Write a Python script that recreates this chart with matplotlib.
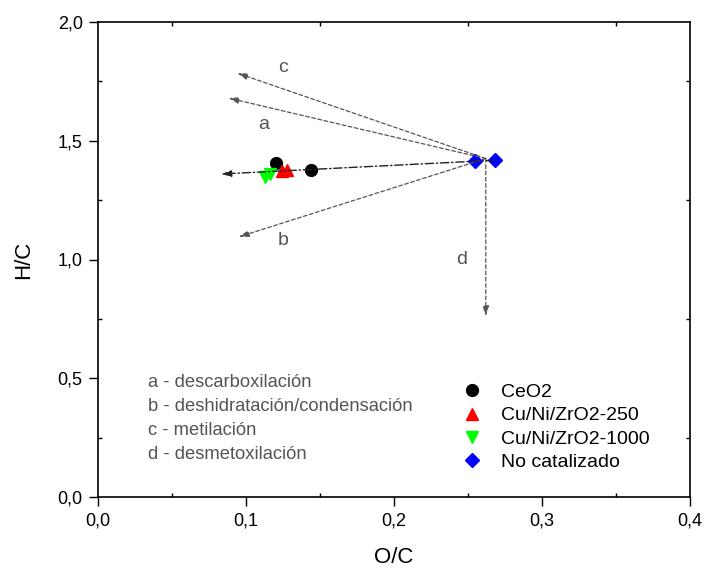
import numpy as np
import matplotlib.pyplot as plt
from matplotlib.ticker import MultipleLocator, FuncFormatter

plt.rcParams['font.family'] = ['Liberation Sans', 'DejaVu Sans']

# data
ceo2_x = [0.120, 0.144]
ceo2_y = [1.405, 1.378]
cu250_x = [0.124, 0.128]
cu250_y = [1.372, 1.375]
cu1000_x = [0.113, 0.116]
cu1000_y = [1.348, 1.360]
nocat_x = [0.255, 0.268]
nocat_y = [1.415, 1.418]

# reaction pathway arrows (start -> end), label and label position
path_start = (0.262, 1.425)
path_ends = {'a': (0.088, 1.680), 'b': (0.095, 1.095), 'c': (0.094, 1.785), 'd': (0.262, 0.760)}
path_labels = {'a': (0.112, 1.57), 'b': (0.125, 1.08), 'c': (0.125, 1.81), 'd': (0.246, 1.00)}
trend_start = (0.268, 1.418)
trend_end = (0.083, 1.360)

notes = ['a - descarboxilación', 'b - deshidratación/condensación',
         'c - metilación', 'd - desmetoxilación']

fig = plt.figure(figsize=(7.04, 5.68), dpi=100)
ax = fig.add_axes([98/704, 71/568, 592/704, 475/568])

grey = '#555555'
for k, end in path_ends.items():
    ax.annotate('', xy=end, xytext=path_start,
                arrowprops=dict(arrowstyle='-|>,head_length=0.6,head_width=0.18',
                                color=grey, lw=0.9, ls=(0, (3, 2)),
                                shrinkA=0, shrinkB=0))
    ax.text(*path_labels[k], k, color=grey, fontsize=14, ha='center', va='center')

ax.annotate('', xy=trend_end, xytext=trend_start,
            arrowprops=dict(arrowstyle='-|>,head_length=0.6,head_width=0.18',
                            color='#222222', lw=1.0, ls=(0, (6, 2, 1, 2)),
                            shrinkA=0, shrinkB=0))

ax.plot(ceo2_x, ceo2_y, 'o', color='black', ms=8.5, ls='none', label='CeO2')
ax.plot(cu250_x, cu250_y, '^', color='red', ms=9, ls='none', label='Cu/Ni/ZrO2-250')
ax.plot(cu1000_x, cu1000_y, 'v', color='#00ff00', ms=9, ls='none', label='Cu/Ni/ZrO2-1000')
ax.plot(nocat_x, nocat_y, 'D', color='blue', ms=7.5, ls='none', label='No catalizado')

for i, t in enumerate(notes):
    ax.text(0.085, 0.241 - i * 0.0505, t, color=grey, fontsize=13.2, ha='left',
            va='center', transform=ax.transAxes)

ax.legend(loc='upper left', bbox_to_anchor=(0.583, 0.268), frameon=False,
          fontsize=14, handletextpad=0.7, labelspacing=0.3, borderpad=0.2,
          handlelength=1.6)

ax.set_xlim(0, 0.4)
ax.set_ylim(0, 2.0)
ax.xaxis.set_major_locator(MultipleLocator(0.1))
ax.yaxis.set_major_locator(MultipleLocator(0.5))
ax.xaxis.set_minor_locator(MultipleLocator(0.05))
ax.yaxis.set_minor_locator(MultipleLocator(0.25))
fmt1 = FuncFormatter(lambda v, p: f'{v:.1f}'.replace('.', ','))
ax.xaxis.set_major_formatter(fmt1)
ax.yaxis.set_major_formatter(fmt1)
ax.tick_params(which='major', direction='out', length=6.5, width=1, labelsize=13, pad=4.5)
ax.tick_params(which='minor', direction='in', length=3, width=1, top=True, right=True)
for s in ax.spines.values():
    s.set_linewidth(1.2)

ax.set_xlabel('O/C', fontsize=16, labelpad=13)
ax.set_ylabel('H/C', fontsize=16, labelpad=17)

fig.savefig('out.png', dpi=100)
